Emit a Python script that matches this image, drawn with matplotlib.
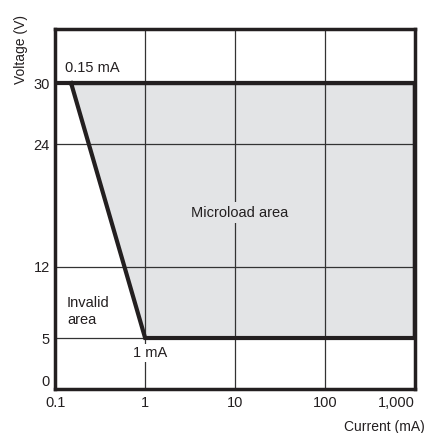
import matplotlib
matplotlib.use("Agg")
import matplotlib.pyplot as plt
from matplotlib.ticker import FixedLocator, FixedFormatter, NullLocator

plt.rcParams['font.family'] = ['Liberation Sans', 'DejaVu Sans']

# Data
region_current = [0.15, 1000, 1000, 1, 0.15]   # mA
region_voltage = [30, 30, 5, 5, 30]            # V
top_line_current = [0.1, 1000]
top_line_voltage = [30, 30]
x_ticks = [0.1, 1, 10, 100, 1000]
x_tick_labels = ["0.1", "1", "10", "100", "1,000"]
y_ticks = [0, 5, 12, 24, 30]
y_tick_labels = ["0", "5", "12", "24", "30"]

ink = '#231f20'
fill_col = '#e3e4e6'
fig = plt.figure(figsize=(4.25, 4.33), dpi=100)
ax = fig.add_axes([0.130, 0.1016, 0.846, 0.8314])

ax.set_xscale('log')
ax.set_xlim(0.1, 1000)
ax.set_ylim(0, 35.3)

ax.fill(region_current, region_voltage, color=fill_col, zorder=1, lw=0)
ax.xaxis.set_major_locator(FixedLocator(x_ticks))
ax.xaxis.set_major_formatter(FixedFormatter(x_tick_labels))
ax.xaxis.set_minor_locator(NullLocator())
ax.yaxis.set_major_locator(FixedLocator(y_ticks))
ax.yaxis.set_major_formatter(FixedFormatter(y_tick_labels))
ax.grid(False)
for xv in x_ticks:
    ax.axvline(xv, color='#333333', lw=0.9, zorder=2)
for yv in y_ticks:
    ax.axhline(yv, color='#333333', lw=0.9, zorder=2)

ax.plot(region_current, region_voltage, color=ink, lw=3, zorder=4, solid_joinstyle='miter')
ax.plot(top_line_current, top_line_voltage, color=ink, lw=3, zorder=4)

for s in ax.spines.values():
    s.set_linewidth(2.5)
    s.set_color(ink)
    s.set_zorder(5)

ax.tick_params(length=0, labelsize=10.5, colors=ink)
ax.tick_params(axis='x', pad=5)
ax.tick_params(axis='y', pad=4)

fig.canvas.draw()
ax.get_yticklabels()[0].set_va('bottom')
ax.get_xticklabels()[-1].set_ha('right')

ax.text(0.13, 31.5, "0.15 mA", fontsize=10.5, color=ink, ha='left', va='center', zorder=6)
ax.text(11.2, 17.3, "Microload area", fontsize=10.5, color=ink, ha='center', va='center',
        zorder=6, bbox=dict(facecolor=fill_col, edgecolor='none', pad=2.5))
ax.text(0.135, 7.6, "Invalid\narea", fontsize=10.5, color=ink, ha='left', va='center',
        linespacing=1.3, zorder=6)
ax.text(1.15, 3.5, "1 mA", fontsize=10.5, color=ink, ha='center', va='center',
        zorder=3.5, bbox=dict(facecolor='white', edgecolor='none', pad=1.5))

fig.text(0.049, 0.885, "Voltage (V)", rotation=90, fontsize=10, color=ink, ha='center', va='center')
fig.text(0.999, 0.013, "Current (mA)", fontsize=10, color=ink, ha='right', va='center')

fig.savefig("out.png", dpi=100)
